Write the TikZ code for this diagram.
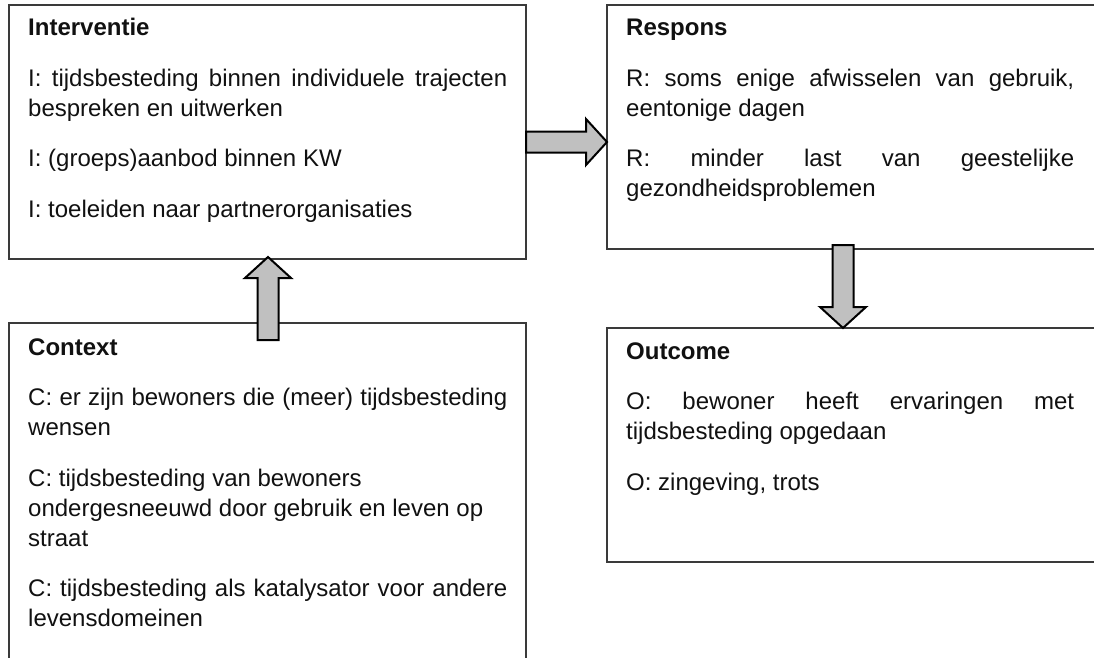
\documentclass[tikz,border=0pt]{standalone}
\usepackage{fontspec}
\setmainfont{Liberation Sans}
\usetikzlibrary{calc}

\definecolor{boxline}{HTML}{3A3A3A}
\definecolor{arrowfill}{HTML}{C0C0C0}
\definecolor{ink}{HTML}{111111}

\tikzset{
  panel/.style={draw=boxline, line width=1.2pt, fill=white, anchor=north west,
                inner sep=0pt, outer sep=0pt},
  panelbody/.style={anchor=base west, inner sep=0pt, text=ink},
  blockarrow/.style={draw=black, line width=2pt, fill=arrowfill, line join=miter},
}

% justified body text of a panel: heading, then paragraphs
\newcommand\paneltext[2]{%
  \vtop{\hsize=#1\relax\parindent=0pt\parskip=20.5pt\relax
    \hyphenpenalty=10000 \exhyphenpenalty=10000
    \fontsize{24}{30}\selectfont #2\par}}

% thick block arrow from tail #1 to tip #2
\newcommand\blockarr[2]{%
  \coordinate (ah) at ($(#2)!21pt!(#1)$);
  \draw[blockarrow] ($(#1)!10.5pt!90:(#2)$) -- ($(ah)!10.5pt!-90:(#1)$)
    -- ($(ah)!23pt!-90:(#1)$) -- (#2) -- ($(ah)!23pt!90:(#1)$)
    -- ($(ah)!10.5pt!90:(#1)$) -- ($(#1)!10.5pt!-90:(#2)$) -- cycle;}

\begin{document}
\begin{tikzpicture}[x=1pt, y=-1pt]
  \clip (0,0) rectangle (1094,658);
  \fill[white] (0,0) rectangle (1094,658);

  % the four panels
  \node[panel, minimum width=517pt, minimum height=254pt] (I) at (9,5) {};
  \node[panel, minimum width=517pt, minimum height=380pt] (C) at (9,323) {};
  \node[panel, minimum width=490pt, minimum height=244pt] (R) at (607,5) {};
  \node[panel, minimum width=490pt, minimum height=234pt] (O) at (607,328) {};

  \node[panelbody] (Itext) at (28,36) {\paneltext{479pt}{%
    \textbf{Interventie}\par
    I: tijdsbesteding binnen individuele trajecten\linebreak bespreken en uitwerken\par
    I: (groeps)aanbod binnen KW\par
    I: toeleiden naar partnerorganisaties}};

  \node[panelbody] (Ctext) at (28,355) {\paneltext{479pt}{%
    \textbf{Context}\par
    C: er zijn bewoners die (meer) tijdsbesteding\linebreak wensen\par
    C: tijdsbesteding van bewoners\newline ondergesneeuwd door gebruik en leven op\newline straat\par
    C: tijdsbesteding als katalysator voor andere\linebreak levensdomeinen}};

  \node[panelbody] (Rtext) at (626,36) {\paneltext{448pt}{%
    \textbf{Respons}\par
    R: soms enige afwisselen van gebruik,\linebreak eentonige dagen\par
    R: minder last van geestelijke\linebreak gezondheidsproblemen}};

  \node[panelbody] (Otext) at (626,359) {\paneltext{448pt}{%
    \textbf{Outcome}\par
    O: bewoner heeft ervaringen met\linebreak tijdsbesteding opgedaan\par
    O: zingeving, trots}};

  % arrow ends
  \coordinate (irTail) at (526,142);
  \coordinate (irTip)  at (607,142);
  \coordinate (ciTail) at (268,340);
  \coordinate (ciTip)  at (268,257);
  \coordinate (roTail) at (843,245);
  \coordinate (roTip)  at (843,328);

  \blockarr{irTail}{irTip}
  \blockarr{ciTail}{ciTip}
  \blockarr{roTail}{roTip}
\end{tikzpicture}
\end{document}
